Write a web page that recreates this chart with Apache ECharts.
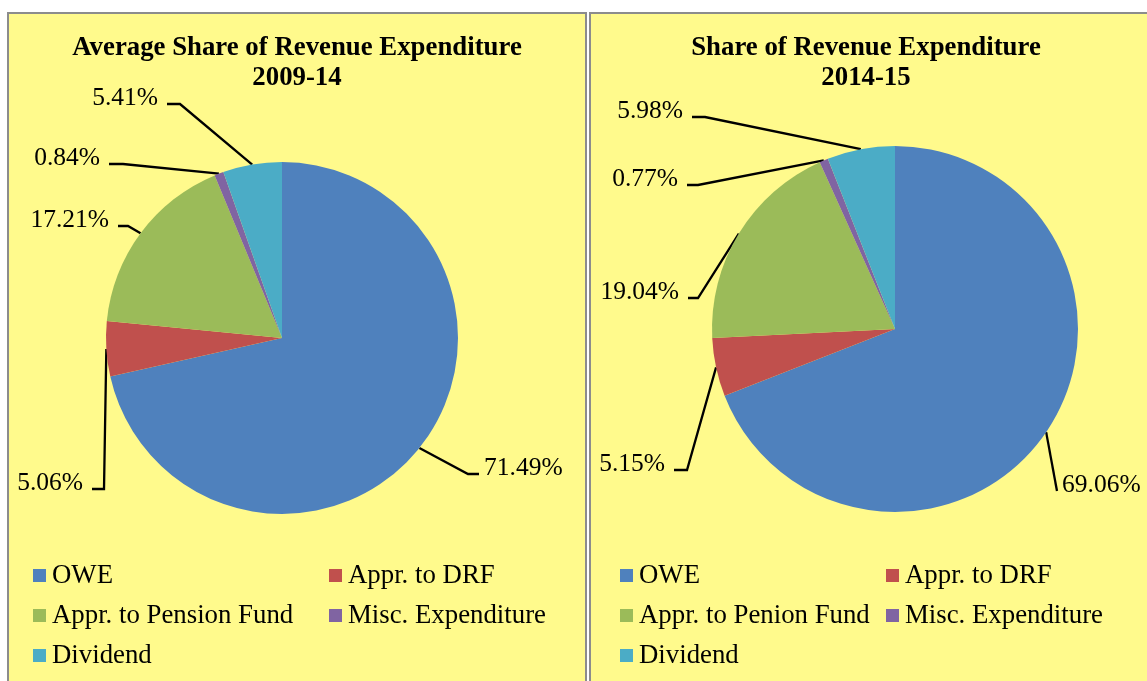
<!DOCTYPE html>
<html>
<head>
<meta charset="utf-8">
<script src="https://cdn.jsdelivr.net/npm/echarts@6/dist/echarts.min.js"></script>
<style>
  html, body { margin: 0; padding: 0; background: #fff; overflow: hidden; }
  #chart { width: 1147px; height: 681px; }
</style>
</head>
<body>
<div id="chart"></div>
<script>
// categories
const namesLeft = ['OWE', 'Appr. to DRF', 'Appr. to Pension Fund', 'Misc. Expenditure', 'Dividend'];
const namesRight = ['OWE', 'Appr. to DRF', 'Appr. to Penion Fund', 'Misc. Expenditure', 'Dividend'];

// shares (%)
const shareLeft = [71.49, 5.06, 17.21, 0.84, 5.41];
const shareRight = [69.06, 5.15, 19.04, 0.77, 5.98];

const titleLeft = 'Average Share of Revenue Expenditure\n2009-14';
const titleRight = 'Share of Revenue Expenditure\n2014-15';

const colors = ['#4F81BD', '#C0504D', '#9BBB59', '#8064A2', '#4BACC6'];

// where each leader line meets its label: [x, y, horizontal stub, side]
const spotsLeft = [[479, 474, 11, 'r'], [92, 489, 12, 'l'], [118, 226, 10, 'l'], [109, 164, 14, 'l'], [167, 104, 13, 'l']];
const spotsRight = [[1057, 491, 0, 'r'], [674, 470, 13, 'l'], [688, 298, 10, 'l'], [687, 185, 11, 'l'], [692, 117, 13, 'l']];

const serif = '"Liberation Serif", "Times New Roman", serif';
const panelFill = '#FFFA8C';
const panelEdge = '#8C8C8C';

function pieSeries(names, values, spots, center, radius) {
  return {
    type: 'pie',
    center: center,
    radius: radius,
    startAngle: 90,
    clockwise: true,
    avoidLabelOverlap: false,
    silent: true,
    animation: false,
    emphasis: { disabled: true },
    itemStyle: { borderWidth: 0 },
    label: {
      show: true,
      position: 'outside',
      fontFamily: serif,
      fontSize: 25.5,
      color: '#000',
      formatter: (p) => p.value.toFixed(2) + '%'
    },
    labelLine: {
      show: true,
      lineStyle: { color: '#000', width: 2.3 }
    },
    labelLayout: function (params) {
      const [ax, ay, stub, side] = spots[params.dataIndex];
      const right = side === 'r';
      return {
        x: right ? ax + 5 : ax - 9,
        y: ay - 6,
        align: right ? 'left' : 'right',
        verticalAlign: 'middle',
        labelLinePoints: [
          params.labelLinePoints[0],
          [right ? ax - stub : ax + stub, ay],
          [ax, ay]
        ]
      };
    },
    data: names.map((n, i) => ({ name: n, value: values[i], itemStyle: { color: colors[i] } }))
  };
}

function legendCol(names, left) {
  return {
    orient: 'vertical',
    left: left,
    top: 562,
    padding: 0,
    itemGap: 13,
    itemWidth: 13,
    itemHeight: 13,
    icon: 'rect',
    selectedMode: false,
    textStyle: { fontFamily: serif, fontSize: 26.8, color: '#000', padding: [0, 0, 0, 1] },
    data: names
  };
}

const chart = echarts.init(document.getElementById('chart'));

chart.setOption({
  animation: false,
  color: colors,
  graphic: [
    { type: 'rect', shape: { x: 8, y: 13, width: 578, height: 700 }, style: { fill: panelFill, stroke: panelEdge, lineWidth: 2 }, z: -10 },
    { type: 'rect', shape: { x: 590, y: 13, width: 600, height: 700 }, style: { fill: panelFill, stroke: panelEdge, lineWidth: 2 }, z: -10 }
  ],
  title: [
    {
      text: titleLeft, left: 297, top: 33, padding: 0, textAlign: 'center',
      textStyle: { fontFamily: serif, fontSize: 26.8, fontWeight: 'bold', color: '#000', lineHeight: 30 }
    },
    {
      text: titleRight, left: 866, top: 33, padding: 0, textAlign: 'center',
      textStyle: { fontFamily: serif, fontSize: 26.8, fontWeight: 'bold', color: '#000', lineHeight: 30 }
    }
  ],
  legend: [
    legendCol([namesLeft[0], namesLeft[2], namesLeft[4]], 33),
    legendCol([namesLeft[1], namesLeft[3]], 329),
    legendCol([namesRight[0], namesRight[2], namesRight[4]], 620),
    legendCol([namesRight[1], namesRight[3]], 886)
  ],
  series: [
    pieSeries(namesLeft, shareLeft, spotsLeft, [282, 338], 176),
    pieSeries(namesRight, shareRight, spotsRight, [895, 329], 183)
  ]
});
</script>
</body>
</html>
